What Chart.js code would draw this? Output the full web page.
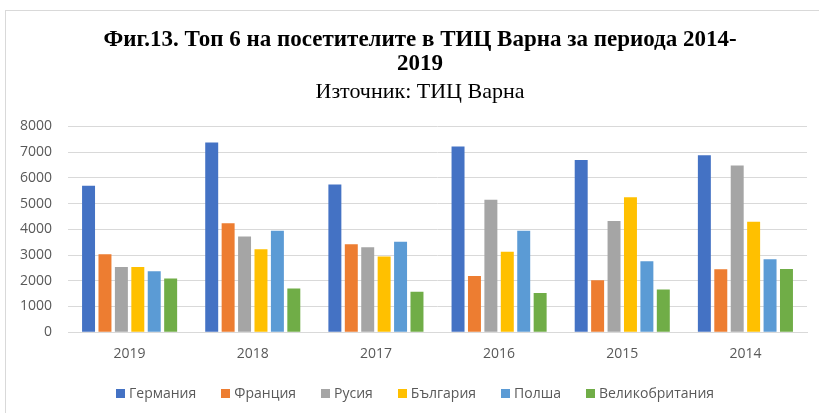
<!DOCTYPE html>
<html>
<head>
<meta charset="utf-8">
<script src="https://cdn.jsdelivr.net/npm/chart.js@4.4.0/dist/chart.umd.min.js"></script>
<style>
  html, body { margin: 0; padding: 0; background: #fff; overflow: hidden; }
  #frame { position: absolute; left: 5px; top: 10px; width: 830px; height: 420px; border: 1px solid #d9d9d9; }
  #wrap { position: absolute; left: 0; top: 0; width: 850px; height: 413px; }
  #legend { position: absolute; left: 116px; top: 383px; display: flex; gap: 25px;
            font: 14px 'Open Sans'; color: #595959; line-height: 20px; white-space: nowrap; }
  #legend span.item { display: flex; align-items: center; gap: 4px; }
  #legend span.box { display: inline-block; width: 9px; height: 9px; }
</style>
</head>
<body>
<div id="frame"></div>
<div id="wrap"><canvas id="bar-chart"></canvas></div>
<div id="legend"></div>
<script>
/*------------------------ DATA ---------------------------------*/

const years = ['2019', '2018', '2017', '2016', '2015', '2014']
const germany = [5700, 7380, 5740, 7220, 6700, 6880]
const france = [3030, 4240, 3420, 2190, 2020, 2450]
const russia = [2540, 3720, 3300, 5150, 4320, 6480]
const bulgaria = [2540, 3230, 2940, 3130, 5250, 4300]
const poland = [2370, 3950, 3520, 3950, 2760, 2840]
const uk = [2090, 1700, 1570, 1520, 1660, 2460]
const yTicks = [0, 1000, 2000, 3000, 4000, 5000, 6000, 7000, 8000]

/*------------------------ CHART ---------------------------------*/

const barCanvas = document.querySelector('#bar-chart').getContext('2d')

const mkSet = (label, data, color) => ({
    label: label,
    data: data,
    backgroundColor: color,
    borderColor: color,
    borderWidth: 0,
    barPercentage: 0.79,
    categoryPercentage: 0.8
})

const barData = {
    labels: years,
    datasets: [
        mkSet('Германия', germany, '#4472C4'),
        mkSet('Франция', france, '#ED7D31'),
        mkSet('Русия', russia, '#A5A5A5'),
        mkSet('България', bulgaria, '#FFC000'),
        mkSet('Полша', poland, '#5B9BD5'),
        mkSet('Великобритания', uk, '#70AD47')
    ]
}

const tickFont = { family: 'Open Sans', size: 14 }

const barOptions = {
    type: 'bar',
    data: barData,
    options: {
        responsive: true,
        maintainAspectRatio: false,
        animation: false,
        layout: {
            padding: { left: 4, right: 14, top: 28, bottom: 38 }
        },
        scales: {
            x: {
                grid: { display: false, drawTicks: false },
                border: { color: '#d9d9d9' },
                ticks: { color: '#595959', font: tickFont, padding: 13 }
            },
            y: {
                min: 0,
                max: 8000,
                afterBuildTicks: axis => { axis.ticks = yTicks.map(v => ({ value: v })) },
                grid: { color: '#d9d9d9', drawTicks: false },
                border: { display: false },
                ticks: { color: '#595959', font: tickFont, padding: 16, callback: v => String(v) }
            },
            // empty spacer on the right so the title sits where the original has it
            spacer: {
                type: 'linear',
                position: 'right',
                grid: { display: false, drawTicks: false },
                border: { display: false },
                ticks: { display: false },
                afterFit: axis => { axis.width = 29 }
            }
        },
        plugins: {
            title: {
                display: true,
                text: ['Фиг.13. Топ 6 на посетителите в ТИЦ Варна за периода 2014-', '2019'],
                color: '#000',
                font: { family: 'Liberation Serif', size: 23, weight: 'bold', lineHeight: 1.05 },
                padding: { top: 0, bottom: 4 }
            },
            subtitle: {
                display: true,
                text: 'Източник: ТИЦ Варна',
                color: '#000',
                font: { family: 'Liberation Serif', size: 22, lineHeight: 1.1 },
                padding: { top: 0, bottom: 22 }
            },
            legend: { display: false },
            tooltip: { enabled: false }
        }
    }
}

const barChart = new Chart(barCanvas, barOptions)

/*------------------------ LEGEND ---------------------------------*/

const legendBox = document.querySelector('#legend')
barData.datasets.forEach(ds => {
    const item = document.createElement('span')
    item.className = 'item'
    const box = document.createElement('span')
    box.className = 'box'
    box.style.background = ds.backgroundColor
    item.appendChild(box)
    item.appendChild(document.createTextNode(ds.label))
    legendBox.appendChild(item)
})
</script>
</body>
</html>
